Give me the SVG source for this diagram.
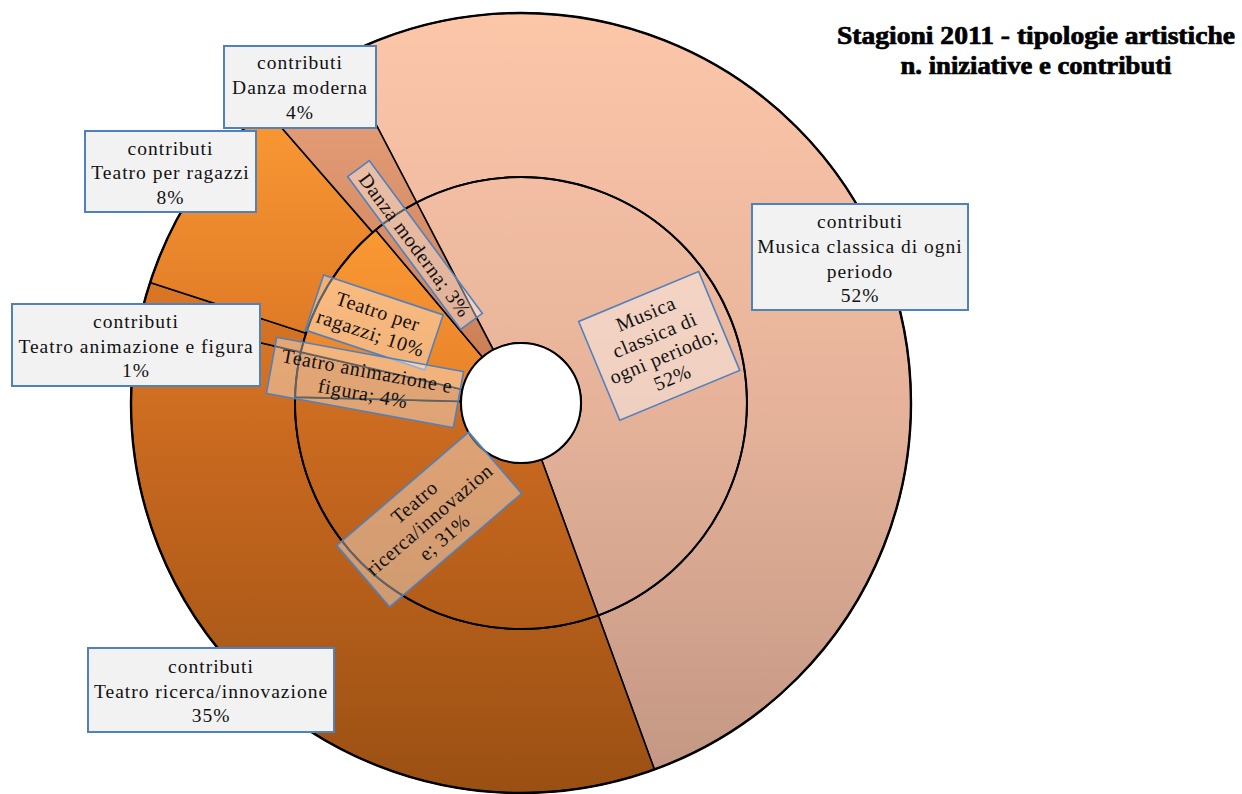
<svg xmlns="http://www.w3.org/2000/svg" width="1242" height="794" viewBox="0 0 1242 794">
  <defs>
    <linearGradient id="gMusica" gradientUnits="userSpaceOnUse" x1="0" y1="13" x2="0" y2="793">
      <stop offset="0" stop-color="#FCC6A9"/>
      <stop offset="0.5" stop-color="#E6B39A"/>
      <stop offset="1" stop-color="#C29683"/>
    </linearGradient>
    <linearGradient id="gRicerca" gradientUnits="userSpaceOnUse" x1="0" y1="285" x2="0" y2="793">
      <stop offset="0" stop-color="#DE7B27"/>
      <stop offset="0.35" stop-color="#C6671F"/>
      <stop offset="1" stop-color="#9A5013"/>
    </linearGradient>
    <linearGradient id="gAnim" gradientUnits="userSpaceOnUse" x1="0" y1="280" x2="0" y2="405">
      <stop offset="0" stop-color="#DA7726"/>
      <stop offset="1" stop-color="#CB6B20"/>
    </linearGradient>
    <linearGradient id="gRagazzi" gradientUnits="userSpaceOnUse" x1="0" y1="105" x2="0" y2="330">
      <stop offset="0" stop-color="#FB9935"/>
      <stop offset="1" stop-color="#E07B26"/>
    </linearGradient>
    <linearGradient id="gRagazziIn" gradientUnits="userSpaceOnUse" x1="0" y1="230" x2="0" y2="392">
      <stop offset="0" stop-color="#FB9934"/>
      <stop offset="1" stop-color="#E8822A"/>
    </linearGradient>
    <linearGradient id="gDanza" gradientUnits="userSpaceOnUse" x1="0" y1="55" x2="0" y2="360">
      <stop offset="0" stop-color="#E8A47E"/>
      <stop offset="1" stop-color="#CC7F57"/>
    </linearGradient>
    <style>
      .slice { stroke: #000; stroke-width: 1.6; stroke-linejoin: round; }
      .box { fill: #F2F2F2; stroke: #4F81BD; stroke-width: 2; }
      .tag { fill: #FFFFFF; fill-opacity: 0.38; stroke: #4F81BD; stroke-width: 1.6; }
      .lbl { font-family: "Liberation Serif", "Times New Roman", serif; font-size: 19.5px; fill: #111; text-anchor: middle; letter-spacing: 1px; }
      .tagtxt { font-family: "Liberation Serif", "Times New Roman", serif; font-size: 20px; fill: #111; text-anchor: middle; letter-spacing: 0.6px; }
      .title { font-family: "Liberation Serif", "Times New Roman", serif; font-size: 25px; font-weight: bold; fill: #000; stroke: #000; stroke-width: 0.7; text-anchor: middle; }
    </style>
  </defs>

  <rect width="1242" height="794" fill="#FFFFFF"/>

  <!-- outer ring: contributi -->
  <g id="ring-contributi">
    <path id="c-musica" class="slice" fill="url(#gMusica)" d="M 340.9 57.1 A 390 390 0 1 1 654.4 769.5 L 598.3 615.4 A 226 226 0 1 0 416.7 202.5 Z"/>
    <path id="c-ricerca" class="slice" fill="url(#gRicerca)" d="M 654.4 769.5 A 390 390 0 0 1 141.0 315.2 L 300.8 352.1 A 226 226 0 0 0 598.3 615.4 Z"/>
    <path id="c-animazione" class="slice" fill="url(#gAnim)" d="M 141.0 315.2 A 390 390 0 0 1 150.1 282.5 L 306.1 333.2 A 226 226 0 0 0 300.8 352.1 Z"/>
    <path id="c-ragazzi" class="slice" fill="url(#gRagazzi)" d="M 150.1 282.5 A 390 390 0 0 1 265.1 108.7 L 372.7 232.4 A 226 226 0 0 0 306.1 333.2 Z"/>
    <path id="c-danza" class="slice" fill="url(#gDanza)" d="M 265.1 108.7 A 390 390 0 0 1 340.9 57.1 L 416.7 202.5 A 226 226 0 0 0 372.7 232.4 Z"/>
    <circle cx="521" cy="403" r="390" fill="none" stroke="#000" stroke-width="2.4"/>
  </g>

  <!-- inner ring: iniziative -->
  <g id="ring-iniziative">
    <path id="i-musica" class="slice" fill="url(#gMusica)" d="M 416.7 202.5 A 226 226 0 1 1 598.3 615.4 L 541.5 459.4 A 60 60 0 1 0 493.3 349.8 Z"/>
    <path id="i-ricerca" class="slice" fill="url(#gRicerca)" d="M 598.3 615.4 A 226 226 0 0 1 295.1 397.1 L 461.0 401.4 A 60 60 0 0 0 541.5 459.4 Z"/>
    <path id="i-animazione" class="slice" fill="url(#gAnim)" d="M 295.1 397.1 A 226 226 0 0 1 300.8 352.1 L 462.5 389.5 A 60 60 0 0 0 461.0 401.4 Z"/>
    <path id="i-ragazzi" class="slice" fill="url(#gRagazziIn)" d="M 300.8 352.1 A 226 226 0 0 1 375.7 229.9 L 482.4 357.0 A 60 60 0 0 0 462.5 389.5 Z"/>
    <path id="i-danza" class="slice" fill="url(#gDanza)" d="M 375.7 229.9 A 226 226 0 0 1 416.7 202.5 L 493.3 349.8 A 60 60 0 0 0 482.4 357.0 Z"/>
    <circle cx="521" cy="403" r="226" fill="none" stroke="#000" stroke-width="2"/>
    <circle cx="521" cy="403" r="60" fill="#FFFFFF" stroke="#000" stroke-width="2"/>
  </g>

  <!-- data labels on the inner ring -->
  <g id="tag-danza" transform="translate(415 245) rotate(53.5)">
    <rect class="tag" x="-95" y="-13.5" width="190" height="27"/>
    <text class="tagtxt" x="0" y="7">Danza moderna; 3%</text>
  </g>
  <g id="tag-ragazzi" transform="translate(374.2 322.5) rotate(18.4)">
    <rect class="tag" x="-63" y="-29" width="126" height="58"/>
    <text class="tagtxt" x="0" y="-5">Teatro per</text>
    <text class="tagtxt" x="0" y="18">ragazzi; 10%</text>
  </g>
  <g id="tag-animazione" transform="translate(365 382.5) rotate(10.4)">
    <rect class="tag" x="-95" y="-28.5" width="190" height="57"/>
    <text class="tagtxt" x="0" y="-5">Teatro animazione e</text>
    <text class="tagtxt" x="0" y="18">figura; 4%</text>
  </g>
  <g id="tag-ricerca" transform="translate(429.2 519.5) rotate(-40.7)">
    <rect class="tag" x="-87" y="-40.5" width="174" height="81"/>
    <text class="tagtxt" x="0" y="-16">Teatro</text>
    <text class="tagtxt" x="0" y="7">ricerca/innovazion</text>
    <text class="tagtxt" x="0" y="30">e; 31%</text>
  </g>
  <g id="tag-musica" transform="translate(659.2 345.9) rotate(-22.6)">
    <rect class="tag" x="-65" y="-53.5" width="130" height="107"/>
    <text class="tagtxt" x="0" y="-28">Musica</text>
    <text class="tagtxt" x="0" y="-5">classica di</text>
    <text class="tagtxt" x="0" y="18">ogni periodo;</text>
    <text class="tagtxt" x="0" y="41">52%</text>
  </g>

  <!-- outer ring callouts -->
  <g id="box-danza">
    <rect class="box" x="224" y="46" width="152" height="82"/>
    <text class="lbl" x="300" y="69">contributi</text>
    <text class="lbl" x="300" y="94">Danza moderna</text>
    <text class="lbl" x="300" y="119">4%</text>
  </g>
  <g id="box-ragazzi">
    <rect class="box" x="85" y="131" width="171" height="81"/>
    <text class="lbl" x="170.5" y="155">contributi</text>
    <text class="lbl" x="170.5" y="179">Teatro per ragazzi</text>
    <text class="lbl" x="170.5" y="204">8%</text>
  </g>
  <g id="box-animazione">
    <rect class="box" x="12" y="304" width="248" height="82"/>
    <text class="lbl" x="136" y="328">contributi</text>
    <text class="lbl" x="136" y="353">Teatro animazione e figura</text>
    <text class="lbl" x="136" y="377">1%</text>
  </g>
  <g id="box-ricerca">
    <rect class="box" x="88" y="648" width="246" height="84"/>
    <text class="lbl" x="211" y="673">contributi</text>
    <text class="lbl" x="211" y="698">Teatro ricerca/innovazione</text>
    <text class="lbl" x="211" y="722">35%</text>
  </g>
  <g id="box-musica">
    <rect class="box" x="752" y="204" width="216" height="106"/>
    <text class="lbl" x="860" y="228">contributi</text>
    <text class="lbl" x="860" y="253">Musica classica di ogni</text>
    <text class="lbl" x="860" y="278">periodo</text>
    <text class="lbl" x="860" y="302">52%</text>
  </g>

  <!-- chart title -->
  <g id="title">
    <text class="title" x="1036" y="44" textLength="398" lengthAdjust="spacingAndGlyphs">Stagioni 2011 -  tipologie artistiche</text>
    <text class="title" x="1036" y="74" textLength="271" lengthAdjust="spacingAndGlyphs">n. iniziative e contributi</text>
  </g>
</svg>
